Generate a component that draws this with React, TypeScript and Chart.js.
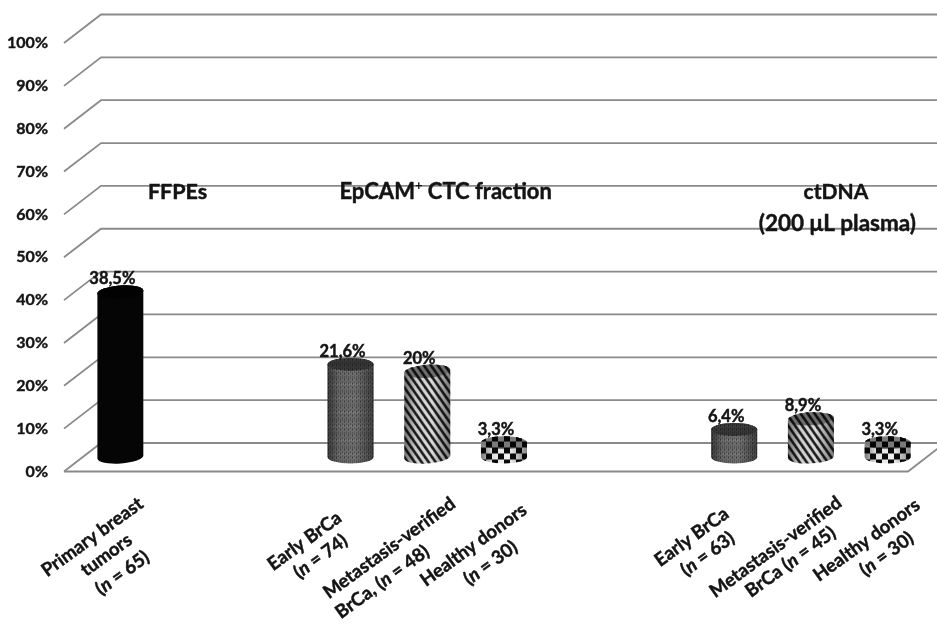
import React, { useEffect, useRef } from "react";
import { Chart, registerables } from "chart.js";

Chart.register(...registerables);

// Slots along the category axis; empty labels leave the gaps between groups.
const categories: string[][] = [
  ["Primary breast", "tumors", "(n = 65)"],
  [],
  [],
  ["Early BrCa", "(n = 74)"],
  ["Metastasis-verified", "BrCa, (n = 48)"],
  ["Healthy donors", "(n = 30)"],
  [],
  [],
  ["Early BrCa", "(n = 63)"],
  ["Metastasis-verified", "BrCa (n = 45)"],
  ["Healthy donors", "(n = 30)"],
];

const ffpeValues = [38.5];
const ctcValues = [21.6, 20, 3.3];
const ctdnaValues = [6.4, 8.9, 3.3];
const groupGap = [null, null];

const yTicks = [0, 10, 20, 30, 40, 50, 60, 70, 80, 90, 100];

// Label offsets per line from the tick position, in pixels.
const labelOffsets: Record<number, number[][]> = {
  0: [[-10, 65.5], [4, 83.5], [20, 101.5]],
  3: [[-28, 69.5], [-12, 85]],
  4: [[-20, 76.5], [-27, 110.5]],
  5: [[-12.5, 73.5], [4.5, 91.5]],
  8: [[-24.6, 65.5], [-8.6, 82.5]],
  9: [[-17.3, 75.5], [-2.3, 90.5]],
  10: [[-3, 68.5], [17, 82.5]],
};

const FONT = "Lato, Carlito, sans-serif";
const INK = "#141414";
const DEPTH_X = 37;
const DEPTH_Y = 28.5;
const BAR_SHIFT_X = 18;
const BAR_SHIFT_Y = -14.5;
const CAP_RY = 6.5;
const LABEL_ANGLE = (-36 * Math.PI) / 180;

function tile(w: number, h: number, paint: (c: CanvasRenderingContext2D) => void) {
  const cv = document.createElement("canvas");
  cv.width = w;
  cv.height = h;
  const c = cv.getContext("2d")!;
  paint(c);
  return c.createPattern(cv, "repeat")!;
}

const stipple = () =>
  tile(4, 14, (c) => {
    c.fillStyle = "#6f6f6f";
    c.fillRect(0, 0, 4, 14);
    c.fillStyle = "#3c3c3c";
    for (let y = 0; y < 14; y += 2) {
      const x = y % 4 === 0 ? 0 : 2;
      c.fillRect(x, y, 1, 1);
      c.fillRect(x + 2, y + 1, 1, 1);
    }
    c.fillStyle = "#8f8f8f";
    c.fillRect(1, 6, 1, 1);
    c.fillRect(3, 7, 1, 1);
  });

const stripes = () =>
  tile(7, 10, (c) => {
    c.fillStyle = "#dcdcdc";
    c.fillRect(0, 0, 7, 10);
    c.strokeStyle = "#1c1c1c";
    c.lineWidth = 2.6;
    for (const o of [-7, 0, 7]) {
      c.beginPath();
      c.moveTo(o - 2.1, -3);
      c.lineTo(o + 9.1, 13);
      c.stroke();
    }
  });

const checks = () =>
  tile(12, 12, (c) => {
    c.fillStyle = "#f4f4f4";
    c.fillRect(0, 0, 12, 12);
    c.fillStyle = "#0a0a0a";
    c.fillRect(0, 0, 6, 6);
    c.fillRect(6, 6, 6, 6);
  });

// One cylinder per filled slot: tilt of the end caps, in radians.
const capTilt: Record<number, number> = { 0: -0.07, 4: -0.07, 9: -0.05 };

function drawCylinder(
  ctx: CanvasRenderingContext2D,
  el: any,
  fill: CanvasPattern | string,
  tilt: number,
  shaded: boolean
) {
  const rx = el.width / 2;
  const outline = () => {
    ctx.beginPath();
    ctx.ellipse(el.x, el.base, rx, CAP_RY, tilt, 0, Math.PI);
    ctx.ellipse(el.x, el.y, rx, CAP_RY, tilt, Math.PI, 2 * Math.PI);
    ctx.closePath();
  };
  outline();
  ctx.fillStyle = fill;
  ctx.fill();
  if (shaded) {
    const g = ctx.createLinearGradient(el.x - rx, 0, el.x + rx, 0);
    g.addColorStop(0, "rgba(0,0,0,0.5)");
    g.addColorStop(0.25, "rgba(0,0,0,0.08)");
    g.addColorStop(0.6, "rgba(0,0,0,0)");
    g.addColorStop(1, "rgba(0,0,0,0.45)");
    ctx.fillStyle = g;
    ctx.fill();
  }
  ctx.beginPath();
  ctx.ellipse(el.x, el.y, rx, CAP_RY, tilt, 0, 2 * Math.PI);
  ctx.fillStyle = fill;
  ctx.fill();
  ctx.fillStyle = "rgba(0,0,0,0.5)";
  ctx.fill();
}

// Bold caption text, thickened a little with a hairline stroke.
function heavyText(ctx: CanvasRenderingContext2D, text: string, x: number, y: number) {
  ctx.fillText(text, x, y);
  ctx.strokeText(text, x, y);
}

function drawItalicN(ctx: CanvasRenderingContext2D, text: string, size: number) {
  const m = text.match(/^(.*\()n( = .*)$/);
  const bold = `700 ${size}px ${FONT}`;
  const italic = `italic 700 ${size}px ${FONT}`;
  ctx.textBaseline = "middle";
  ctx.textAlign = "left";
  if (!m) {
    ctx.font = bold;
    heavyText(ctx, text, -ctx.measureText(text).width / 2, 0);
    return;
  }
  ctx.font = bold;
  const a = ctx.measureText(m[1]).width;
  const c = ctx.measureText(m[2]).width;
  ctx.font = italic;
  const b = ctx.measureText("n").width;
  let x = -(a + b + c) / 2;
  ctx.font = bold;
  heavyText(ctx, m[1], x, 0);
  x += a;
  ctx.font = italic;
  heavyText(ctx, "n", x, 0);
  x += b;
  ctx.font = bold;
  heavyText(ctx, m[2], x, 0);
}

const wallPlugin = {
  id: "walls",
  beforeDraw(chart: any) {
    const { ctx, chartArea, scales } = chart;
    const y = scales.y;
    ctx.save();
    ctx.strokeStyle = "#8a8a8a";
    ctx.lineWidth = 1.8;
    yTicks.forEach((t) => {
      const py = y.getPixelForValue(t);
      ctx.beginPath();
      ctx.moveTo(chartArea.left, py);
      ctx.lineTo(chartArea.left + DEPTH_X, py - DEPTH_Y);
      ctx.lineTo(chart.width, py - DEPTH_Y);
      ctx.stroke();
    });
    const py0 = y.getPixelForValue(0);
    ctx.beginPath();
    ctx.moveTo(chartArea.left, py0);
    ctx.lineTo(chartArea.right, py0);
    ctx.lineTo(chartArea.right + DEPTH_X, py0 - DEPTH_Y);
    ctx.stroke();
    ctx.restore();
  },
};

const cylinderPlugin = {
  id: "cylinders",
  afterDatasetsDraw(chart: any) {
    const { ctx } = chart;
    const fills: Record<number, CanvasPattern | string> = {
      0: "#050505",
      3: stipple(),
      4: stripes(),
      5: checks(),
      8: stipple(),
      9: stripes(),
      10: checks(),
    };
    const values = chart.data.datasets[0].data;
    const meta = chart.getDatasetMeta(0);
    ctx.save();
    ctx.translate(BAR_SHIFT_X, BAR_SHIFT_Y);
    meta.data.forEach((el: any, i: number) => {
      if (values[i] == null) return;
      drawCylinder(ctx, el, fills[i], capTilt[i] ?? 0, i !== 0);
    });
    ctx.fillStyle = INK;
    ctx.strokeStyle = INK;
    ctx.lineWidth = 0.45;
    ctx.textAlign = "center";
    ctx.textBaseline = "middle";
    ctx.font = `700 16.5px ${FONT}`;
    meta.data.forEach((el: any, i: number) => {
      if (values[i] == null) return;
      const text = `${String(values[i]).replace(".", ",")}%`;
      heavyText(ctx, text, el.x - 8, el.y - 13);
    });
    ctx.restore();
  },
  afterDraw(chart: any) {
    const { ctx, scales } = chart;
    const x = scales.x;
    const y0 = scales.y.getPixelForValue(0);
    ctx.save();
    ctx.fillStyle = INK;
    ctx.strokeStyle = INK;
    ctx.lineWidth = 0.45;
    categories.forEach((lines, i) => {
      lines.forEach((line, l) => {
        const [dx, dy] = labelOffsets[i][l];
        ctx.save();
        ctx.translate(x.getPixelForValue(i) + dx, y0 + dy);
        ctx.rotate(LABEL_ANGLE);
        drawItalicN(ctx, line, 18.5);
        ctx.restore();
      });
    });

    // Group captions above the cylinders.
    ctx.textBaseline = "middle";
    ctx.textAlign = "center";
    ctx.font = `700 21.5px ${FONT}`;
    heavyText(ctx, "FFPEs", x.getPixelForValue(0.98), 192);
    ctx.textAlign = "left";
    let cx = x.getPixelForValue(3.09);
    ctx.font = `700 22px ${FONT}`;
    heavyText(ctx, "EpCAM", cx, 192);
    cx += ctx.measureText("EpCAM").width;
    ctx.font = `700 13px ${FONT}`;
    ctx.fillText("+", cx, 186);
    cx += ctx.measureText("+").width;
    ctx.font = `700 22px ${FONT}`;
    heavyText(ctx, " CTC fraction", cx, 192);
    ctx.textAlign = "center";
    ctx.font = `700 21px ${FONT}`;
    heavyText(ctx, "ctDNA", x.getPixelForValue(9.56), 192);
    ctx.font = `700 22.5px ${FONT}`;
    heavyText(ctx, "(200 μL plasma)", x.getPixelForValue(9.58), 224);
    ctx.restore();
  },
};

export default function App() {
  const ref = useRef<HTMLCanvasElement | null>(null);

  useEffect(() => {
    const chart = new Chart(ref.current!, {
      type: "bar",
      data: {
        labels: categories.map((c) => c.join(" ")),
        datasets: [
          {
            data: [...ffpeValues, ...groupGap, ...ctcValues, ...groupGap, ...ctdnaValues],
            backgroundColor: "rgba(0,0,0,0)",
            categoryPercentage: 1,
            barPercentage: 0.6,
          },
        ],
      },
      options: {
        animation: false,
        responsive: false,
        layout: { padding: { top: 43, right: 29, bottom: 169.5, left: 0 } },
        plugins: { legend: { display: false }, tooltip: { enabled: false } },
        scales: {
          x: { display: false },
          y: {
            min: 0,
            max: 100,
            afterFit: (s: any) => {
              s.width = 64;
            },
            grid: { display: false, drawTicks: false },
            border: { display: false },
            ticks: {
              stepSize: 10,
              padding: 16,
              color: INK,
              textStrokeColor: INK,
              textStrokeWidth: 0.4,
              font: { family: FONT, weight: "bold", size: 16 },
              callback: (v: any) => `${v}%`,
            },
          },
        },
      },
      plugins: [wallPlugin, cylinderPlugin],
    } as any);
    return () => chart.destroy();
  }, []);

  return (
    <canvas
      ref={ref}
      width={937}
      height={641}
      style={{ position: "absolute", left: 0, top: 0, display: "block" }}
    />
  );
}
